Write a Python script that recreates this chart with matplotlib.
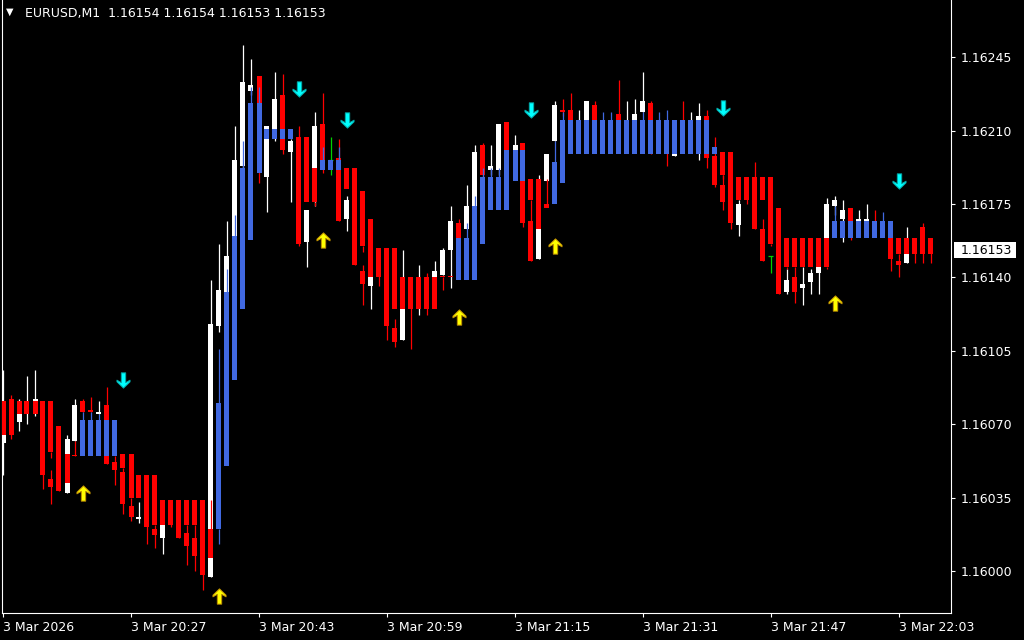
#!/usr/bin/env python3
"""
EURUSD M1 chart: candles with trend-bar overlay and signal arrows
"""

import numpy as np
import matplotlib
matplotlib.use('Agg')
import matplotlib.pyplot as plt
from matplotlib.path import Path
from matplotlib.patches import Rectangle
from matplotlib.transforms import blended_transform_factory

plt.rcParams['font.family'] = ['DejaVu Sans']

symbol = 'EURUSD,M1'
last_ohlc = [1.16154, 1.16154, 1.16153, 1.16153]
last_price = 1.16153

# one bar per minute, 20:11 .. 22:07
opens = [
    1.16061, 1.16082, 1.16071, 1.16075, 1.16077, 1.16081, 1.16044, 1.16069, 1.16037, 1.16062,
    1.16081, 1.16077, 1.16075, 1.16079, 1.16052, 1.16047, 1.16031, 1.16025, 1.16035, 1.16020,
    1.16016, 1.16034, 1.16034, 1.16018, 1.16016, 1.16034, 1.15997, 1.16117, 1.16129, 1.16155,
    1.16193, 1.16229, 1.16236, 1.16188, 1.16206, 1.16227, 1.16200, 1.16207, 1.16157, 1.16182,
    1.16213, 1.16196, 1.16197, 1.16168, 1.16192, 1.16143, 1.16136, 1.16154, 1.16154, 1.16116,
    1.16110, 1.16140, 1.16129, 1.16140, 1.16129, 1.16141, 1.16153, 1.16166, 1.16163, 1.16170,
    1.16203, 1.16191, 1.16191, 1.16214, 1.16201, 1.16204, 1.16167, 1.16149, 1.16186, 1.16205,
    1.16220, 1.16220, 1.16213, 1.16215, 1.16222, 1.16203, 1.16203, 1.16218, 1.16213, 1.16215,
    1.16219, 1.16223, 1.16203, 1.16206, 1.16198, 1.16210, 1.16206, 1.16206, 1.16217, 1.16198,
    1.16184, 1.16200, 1.16165, 1.16188, 1.16188, 1.16163, 1.16150, 1.16173, 1.16133, 1.16140,
    1.16135, 1.16138, 1.16142, 1.16153, 1.16174, 1.16168, 1.16173, 1.16167, 1.16167, 1.16166,
    1.16162, 1.16165, 1.16148, 1.16147, 1.16159, 1.16164, 1.16158,
]
highs = [
    1.16096, 1.16084, 1.16082, 1.16093, 1.16096, 1.16081, 1.16048, 1.16069, 1.16065, 1.16082,
    1.16082, 1.16083, 1.16081, 1.16088, 1.16055, 1.16049, 1.16035, 1.16033, 1.16035, 1.16022,
    1.16029, 1.16034, 1.16034, 1.16022, 1.16022, 1.16034, 1.16139, 1.16156, 1.16167, 1.16212,
    1.16251, 1.16244, 1.16236, 1.16212, 1.16238, 1.16237, 1.16206, 1.16212, 1.16172, 1.16219,
    1.16228, 1.16207, 1.16206, 1.16179, 1.16192, 1.16146, 1.16146, 1.16154, 1.16154, 1.16120,
    1.16153, 1.16140, 1.16146, 1.16142, 1.16148, 1.16154, 1.16174, 1.16168, 1.16184, 1.16203,
    1.16204, 1.16203, 1.16213, 1.16214, 1.16208, 1.16204, 1.16177, 1.16189, 1.16199, 1.16224,
    1.16225, 1.16228, 1.16220, 1.16224, 1.16224, 1.16210, 1.16210, 1.16234, 1.16224, 1.16225,
    1.16238, 1.16224, 1.16210, 1.16206, 1.16206, 1.16224, 1.16219, 1.16223, 1.16220, 1.16207,
    1.16189, 1.16200, 1.16177, 1.16188, 1.16195, 1.16168, 1.16150, 1.16173, 1.16144, 1.16145,
    1.16145, 1.16144, 1.16151, 1.16178, 1.16179, 1.16177, 1.16173, 1.16172, 1.16175, 1.16172,
    1.16165, 1.16165, 1.16151, 1.16164, 1.16159, 1.16166, 1.16159,
]
lows = [
    1.16046, 1.16063, 1.16067, 1.16070, 1.16074, 1.16039, 1.16032, 1.16038, 1.16037, 1.16062,
    1.16076, 1.16076, 1.16075, 1.16051, 1.16041, 1.16027, 1.16024, 1.16023, 1.16013, 1.16011,
    1.16008, 1.16021, 1.16016, 1.16003, 1.16000, 1.15991, 1.15997, 1.16114, 1.16129, 1.16155,
    1.16177, 1.16227, 1.16185, 1.16171, 1.16205, 1.16199, 1.16176, 1.16155, 1.16145, 1.16174,
    1.16190, 1.16189, 1.16167, 1.16162, 1.16146, 1.16127, 1.16125, 1.16136, 1.16110, 1.16107,
    1.16110, 1.16106, 1.16122, 1.16122, 1.16127, 1.16141, 1.16135, 1.16155, 1.16163, 1.16170,
    1.16186, 1.16189, 1.16189, 1.16194, 1.16198, 1.16164, 1.16148, 1.16149, 1.16186, 1.16205,
    1.16217, 1.16213, 1.16213, 1.16213, 1.16213, 1.16203, 1.16203, 1.16213, 1.16213, 1.16215,
    1.16219, 1.16199, 1.16203, 1.16193, 1.16198, 1.16206, 1.16206, 1.16196, 1.16192, 1.16183,
    1.16172, 1.16163, 1.16160, 1.16175, 1.16163, 1.16148, 1.16142, 1.16132, 1.16132, 1.16128,
    1.16127, 1.16132, 1.16132, 1.16153, 1.16170, 1.16157, 1.16158, 1.16165, 1.16165, 1.16163,
    1.16162, 1.16143, 1.16140, 1.16147, 1.16147, 1.16147, 1.16147,
]
closes = [
    1.16077, 1.16065, 1.16076, 1.16079, 1.16082, 1.16046, 1.16040, 1.16038, 1.16063, 1.16079,
    1.16076, 1.16076, 1.16076, 1.16051, 1.16048, 1.16032, 1.16026, 1.16026, 1.16021, 1.16017,
    1.16029, 1.16022, 1.16016, 1.16012, 1.16007, 1.15998, 1.16118, 1.16134, 1.16150, 1.16196,
    1.16233, 1.16232, 1.16190, 1.16212, 1.16225, 1.16201, 1.16205, 1.16156, 1.16172, 1.16212,
    1.16196, 1.16196, 1.16167, 1.16177, 1.16146, 1.16137, 1.16144, 1.16140, 1.16117, 1.16109,
    1.16136, 1.16125, 1.16138, 1.16125, 1.16143, 1.16153, 1.16167, 1.16155, 1.16174, 1.16200,
    1.16189, 1.16193, 1.16213, 1.16196, 1.16203, 1.16166, 1.16148, 1.16167, 1.16199, 1.16222,
    1.16219, 1.16213, 1.16215, 1.16224, 1.16213, 1.16210, 1.16210, 1.16213, 1.16214, 1.16218,
    1.16224, 1.16213, 1.16210, 1.16199, 1.16206, 1.16206, 1.16210, 1.16217, 1.16197, 1.16184,
    1.16176, 1.16166, 1.16175, 1.16177, 1.16163, 1.16148, 1.16150, 1.16132, 1.16139, 1.16133,
    1.16137, 1.16142, 1.16151, 1.16175, 1.16177, 1.16172, 1.16163, 1.16168, 1.16168, 1.16163,
    1.16165, 1.16149, 1.16146, 1.16155, 1.16151, 1.16151, 1.16153,
]

# trend bar overlay (blue = up, red = down)
trend_open = [
    1.16081, 1.16082, 1.16081, 1.16081, 1.16081, 1.16081, 1.16081, 1.16069, 1.16056, 1.16055,
    1.16055, 1.16055, 1.16055, 1.16055, 1.16055, 1.16056, 1.16056, 1.16046, 1.16046, 1.16046,
    1.16034, 1.16034, 1.16034, 1.16034, 1.16034, 1.16034, 1.16020, 1.16020, 1.16050, 1.16091,
    1.16125, 1.16158, 1.16190, 1.16206, 1.16206, 1.16206, 1.16206, 1.16207, 1.16207, 1.16192,
    1.16191, 1.16191, 1.16191, 1.16192, 1.16192, 1.16181, 1.16168, 1.16154, 1.16154, 1.16154,
    1.16140, 1.16140, 1.16140, 1.16140, 1.16140, 1.16140, 1.16140, 1.16139, 1.16139, 1.16139,
    1.16156, 1.16172, 1.16172, 1.16172, 1.16186, 1.16186, 1.16187, 1.16187, 1.16175, 1.16175,
    1.16185, 1.16199, 1.16199, 1.16199, 1.16199, 1.16199, 1.16199, 1.16199, 1.16199, 1.16199,
    1.16199, 1.16199, 1.16199, 1.16199, 1.16199, 1.16199, 1.16199, 1.16199, 1.16199, 1.16199,
    1.16200, 1.16200, 1.16188, 1.16188, 1.16188, 1.16188, 1.16188, 1.16173, 1.16159, 1.16159,
    1.16159, 1.16159, 1.16159, 1.16159, 1.16159, 1.16159, 1.16159, 1.16159, 1.16159, 1.16159,
    1.16159, 1.16159, 1.16159, 1.16159, 1.16159, 1.16159, 1.16159,
]
trend_close = [
    1.16065, 1.16065, 1.16075, 1.16075, 1.16075, 1.16046, 1.16057, 1.16038, 1.16042, 1.16055,
    1.16072, 1.16072, 1.16072, 1.16072, 1.16072, 1.16049, 1.16035, 1.16035, 1.16035, 1.16022,
    1.16022, 1.16022, 1.16022, 1.16022, 1.16022, 1.16022, 1.16006, 1.16080, 1.16133, 1.16160,
    1.16192, 1.16223, 1.16223, 1.16211, 1.16211, 1.16211, 1.16211, 1.16176, 1.16176, 1.16176,
    1.16196, 1.16196, 1.16196, 1.16182, 1.16163, 1.16155, 1.16140, 1.16140, 1.16125, 1.16125,
    1.16125, 1.16125, 1.16125, 1.16125, 1.16125, 1.16140, 1.16140, 1.16159, 1.16159, 1.16174,
    1.16188, 1.16188, 1.16188, 1.16201, 1.16201, 1.16201, 1.16177, 1.16163, 1.16173, 1.16195,
    1.16215, 1.16215, 1.16215, 1.16215, 1.16215, 1.16215, 1.16215, 1.16215, 1.16215, 1.16215,
    1.16215, 1.16215, 1.16215, 1.16215, 1.16215, 1.16215, 1.16215, 1.16215, 1.16215, 1.16202,
    1.16189, 1.16177, 1.16177, 1.16177, 1.16177, 1.16177, 1.16156, 1.16145, 1.16145, 1.16145,
    1.16145, 1.16145, 1.16145, 1.16145, 1.16167, 1.16167, 1.16167, 1.16167, 1.16167, 1.16167,
    1.16167, 1.16167, 1.16151, 1.16151, 1.16151, 1.16151, 1.16151,
]
# overlay shadows, only where they show beyond the overlay body
trend_wick_top = {9: 1.16062, 10: 1.16076, 11: 1.16076, 12: 1.16075, 26: 1.16034,
                  27: 1.16106, 28: 1.16144, 29: 1.16170, 30: 1.16205, 31: 1.16231,
                  32: 1.16231, 40: 1.16202, 42: 1.16202, 58: 1.16166, 59: 1.16179,
                  60: 1.16192, 61: 1.16192, 62: 1.16192, 68: 1.16187, 69: 1.16205,
                  70: 1.16219, 75: 1.16219, 76: 1.16219, 80: 1.16219, 82: 1.16219,
                  83: 1.16220, 104: 1.16174, 110: 1.16171}
trend_wick_bottom = {6: 1.16054, 27: 1.16013, 39: 1.16174, 45: 1.16152, 55: 1.16134,
                     90: 1.16187, 96: 1.16155, 98: 1.16144, 103: 1.16144}

# signal arrows: bar index, price
buy_idx = [10, 27, 40, 57, 69, 104]
buy_price = [1.16037, 1.15988, 1.16158, 1.16121, 1.16155, 1.16128]
sell_idx = [15, 37, 43, 66, 90, 112]
sell_price = [1.16091, 1.16230, 1.16215, 1.16220, 1.16221, 1.16186]

price_ticks = [1.16000, 1.16035, 1.16070, 1.16105, 1.16140, 1.16175, 1.16210, 1.16245]
time_tick_idx = [0, 16, 32, 48, 64, 80, 96, 112]
time_tick_labels = ['3 Mar 2026', '3 Mar 20:27', '3 Mar 20:43', '3 Mar 20:59',
                    '3 Mar 21:15', '3 Mar 21:31', '3 Mar 21:47', '3 Mar 22:03']

RED = '#FF0000'
BLUE = '#4169E1'
WHITE = '#FFFFFF'
GREEN = '#00D000'


def arrow_path(up=True):
    v = [(0, 7), (6, 1.2), (6, -0.3), (2.0, 2.0), (2.0, -7), (-2.0, -7),
         (-2.0, 2.0), (-6, -0.3), (-6, 1.2), (0, 7)]
    if not up:
        v = [(a, -b) for a, b in v]
    codes = [Path.MOVETO] + [Path.LINETO] * (len(v) - 2) + [Path.CLOSEPOLY]
    return Path(v, codes)


def main():
    o = np.array(opens); h = np.array(highs); l = np.array(lows); c = np.array(closes)
    to = np.array(trend_open); tc = np.array(trend_close)
    x = np.arange(len(o))

    fig = plt.figure(figsize=(10.24, 6.4), dpi=100, facecolor='black')
    ax = fig.add_axes([2 / 1024, 27 / 640, 949 / 1024, 613 / 640], facecolor='black')
    ymin, ymax = 1.159800, 1.162723
    ax.set_xlim(-0.125, 118.5)
    ax.set_ylim(ymin, ymax)
    px = (ymax - ymin) / 613.0  # price of one pixel
    bw = 0.625

    # candles
    doji = np.isclose(o, c, rtol=0, atol=1e-7)
    wick_col = [GREEN if d else (WHITE if cc > oo else RED) for oo, cc, d in zip(o, c, doji)]
    ax.vlines(x, l, h, colors=wick_col, linewidth=0.9, zorder=2)
    nd = ~doji
    body_col = [WHITE if cc > oo else RED for oo, cc in zip(o[nd], c[nd])]
    ax.bar(x[nd], np.maximum(np.abs(c - o), px)[nd], bottom=np.minimum(o, c)[nd],
           width=bw, color=body_col, linewidth=0, zorder=3)
    ax.hlines(o[doji], x[doji] - bw / 2, x[doji] + bw / 2, colors=GREEN, linewidth=0.9, zorder=3)

    # trend overlay
    tcol = np.where(tc > to, BLUE, RED)
    for i, top in trend_wick_top.items():
        ax.vlines(i, max(to[i], tc[i]), top, colors=tcol[i], linewidth=0.9, zorder=4)
    for i, bot in trend_wick_bottom.items():
        ax.vlines(i, bot, min(to[i], tc[i]), colors=tcol[i], linewidth=0.9, zorder=4)
    ax.bar(x, np.maximum(np.abs(tc - to), px), bottom=np.minimum(to, tc),
           width=bw, color=tcol, linewidth=0, zorder=5)

    # arrows
    ax.plot(buy_idx, buy_price, linestyle='none', marker=arrow_path(True), markersize=11,
            markerfacecolor='#FFFF00', markeredgecolor='#C09000', markeredgewidth=0.7, zorder=6)
    ax.plot(sell_idx, sell_price, linestyle='none', marker=arrow_path(False), markersize=11,
            markerfacecolor='#00FFFF', markeredgecolor='#00A8A8', markeredgewidth=0.7, zorder=6)

    # axes, ticks
    for side in ['left', 'bottom', 'right']:
        ax.spines[side].set_color(WHITE)
        ax.spines[side].set_linewidth(0.8)
    ax.spines['top'].set_visible(False)
    ax.yaxis.tick_right()
    ax.set_yticks(price_ticks)
    ax.set_yticklabels([f'{p:.5f}' for p in price_ticks])
    ax.tick_params(axis='y', colors=WHITE, length=3, width=0.8, pad=4, labelsize=9)
    ax.set_xticks(time_tick_idx)
    ax.set_xticklabels(time_tick_labels)
    ax.tick_params(axis='x', colors=WHITE, length=3, width=0.8, pad=3, labelsize=9)
    for lbl in ax.get_xticklabels():
        lbl.set_horizontalalignment('left')

    # current price box
    tr = blended_transform_factory(ax.transAxes, ax.transData)
    ax.add_patch(Rectangle((952 / 949, last_price - 8 * px), 62 / 949, 16 * px,
                           transform=tr, facecolor=WHITE, edgecolor='none',
                           clip_on=False, zorder=7))
    ax.text(959 / 949, last_price, f'{last_price:.5f}', transform=tr, color='black',
            fontsize=9, va='center', ha='left', clip_on=False, zorder=8)

    # header
    fig.text(6 / 1024, 1 - 12 / 640, '\u25bc', color=WHITE, fontsize=7, va='center', ha='left')
    header = symbol + '  ' + ' '.join(f'{v:.5f}' for v in last_ohlc)
    fig.text(25 / 1024, 1 - 13.5 / 640, header, color=WHITE, fontsize=9, va='center', ha='left')

    plt.savefig('out.png', dpi=100, facecolor='black')
    plt.close()


if __name__ == '__main__':
    main()
